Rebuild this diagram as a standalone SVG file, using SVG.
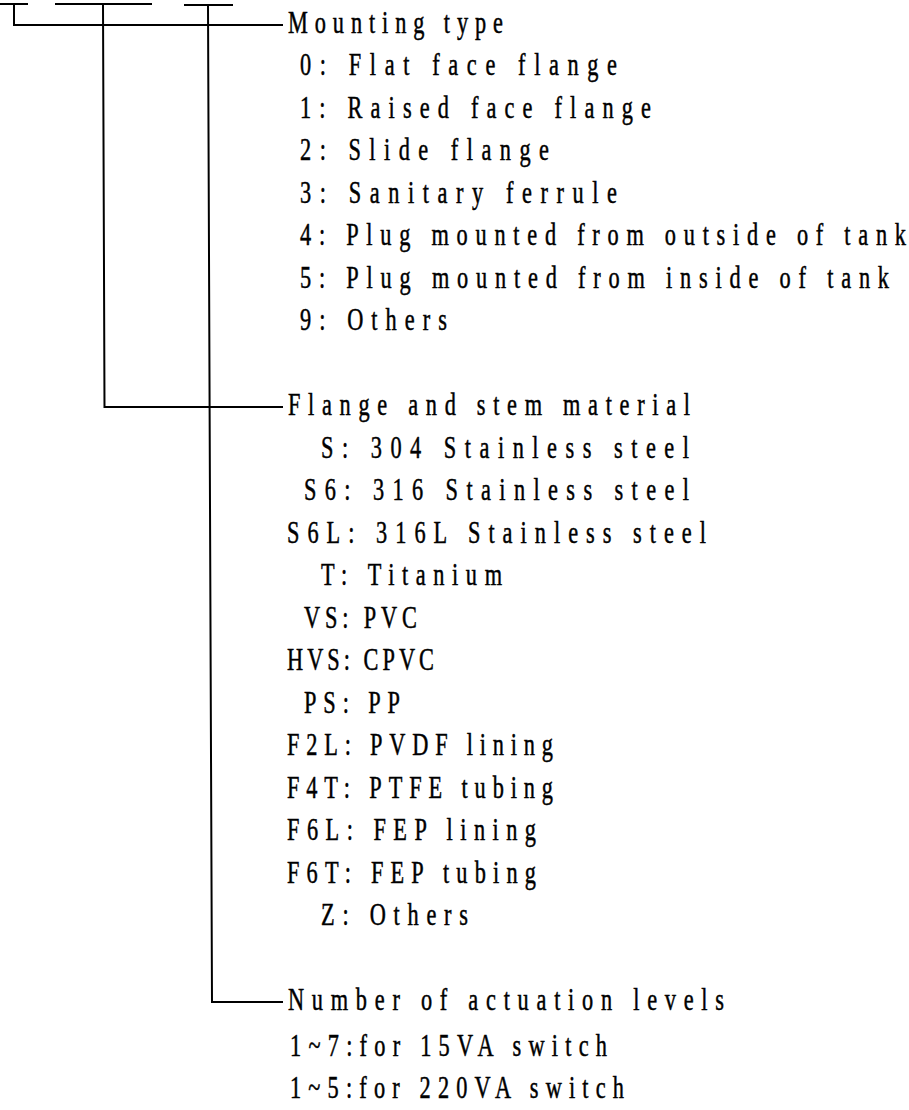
<svg xmlns="http://www.w3.org/2000/svg" width="909" height="1110" viewBox="0 0 909 1110">
<style>
.t{font-family:"Liberation Serif","DejaVu Serif",serif;font-size:31px;fill:#000;stroke:#000;stroke-width:0.5}
.c{fill:none;stroke:#000;stroke-width:2}
</style>
<rect width="909" height="1110" fill="#fff"/>
<g id="connectors" class="c">
<path d="M0 4H28M14 4V25H283"/>
<path d="M55 4H152M103 4L104.5 407H283"/>
<path d="M184 5H233M208 5L212 1002H283"/>
</g>
<g transform="scale(0.72,1)">
<g id="mounting-type" class="t">
<text x="400" y="33" textLength="298.61" lengthAdjust="spacing">Mounting type</text>
<text x="416.67" y="75.5" textLength="440.28" lengthAdjust="spacing">0: Flat face flange</text>
<text x="416.67" y="118" textLength="487.5" lengthAdjust="spacing">1: Raised face flange</text>
<text x="416.67" y="160.5" textLength="345.83" lengthAdjust="spacing">2: Slide flange</text>
<text x="416.67" y="203" textLength="440.28" lengthAdjust="spacing">3: Sanitary ferrule</text>
<text x="416.67" y="245.5" textLength="841.67" lengthAdjust="spacing">4: Plug mounted from outside of tank</text>
<text x="416.67" y="288" textLength="818.06" lengthAdjust="spacing">5: Plug mounted from inside of tank</text>
<text x="416.67" y="330.5" textLength="204.17" lengthAdjust="spacing">9: Others</text>
</g>
<g id="material" class="t">
<text x="400" y="415.5" textLength="558.33" lengthAdjust="spacing">Flange and stem material</text>
<text x="445.83" y="458" textLength="511.11" lengthAdjust="spacing">S: 304 Stainless steel</text>
<text x="422.22" y="500.5" textLength="534.72" lengthAdjust="spacing">S6: 316 Stainless steel</text>
<text x="398.61" y="543" textLength="581.94" lengthAdjust="spacing">S6L: 316L Stainless steel</text>
<text x="445.83" y="585.5" textLength="251.39" lengthAdjust="spacing">T: Titanium</text>
<text x="422.22" y="628" textLength="156.94" lengthAdjust="spacing">VS: PVC</text>
<text x="398.61" y="670.5" textLength="204.17" lengthAdjust="spacing">HVS: CPVC</text>
<text x="422.22" y="713" textLength="133.33" lengthAdjust="spacing">PS: PP</text>
<text x="398.61" y="755.5" textLength="369.44" lengthAdjust="spacing">F2L: PVDF lining</text>
<text x="398.61" y="798" textLength="369.44" lengthAdjust="spacing">F4T: PTFE tubing</text>
<text x="398.61" y="840.5" textLength="345.83" lengthAdjust="spacing">F6L: FEP lining</text>
<text x="398.61" y="883" textLength="345.83" lengthAdjust="spacing">F6T: FEP tubing</text>
<text x="445.83" y="925.5" textLength="204.17" lengthAdjust="spacing">Z: Others</text>
</g>
<g id="actuation-levels" class="t">
<text x="400" y="1010.5" textLength="605.56" lengthAdjust="spacing">Number of actuation levels</text>
<text x="402.78" y="1056" textLength="440.28" lengthAdjust="spacing">1~7:for 15VA switch</text>
<text x="402.78" y="1098" textLength="463.89" lengthAdjust="spacing">1~5:for 220VA switch</text>
</g>
</g>
</svg>
